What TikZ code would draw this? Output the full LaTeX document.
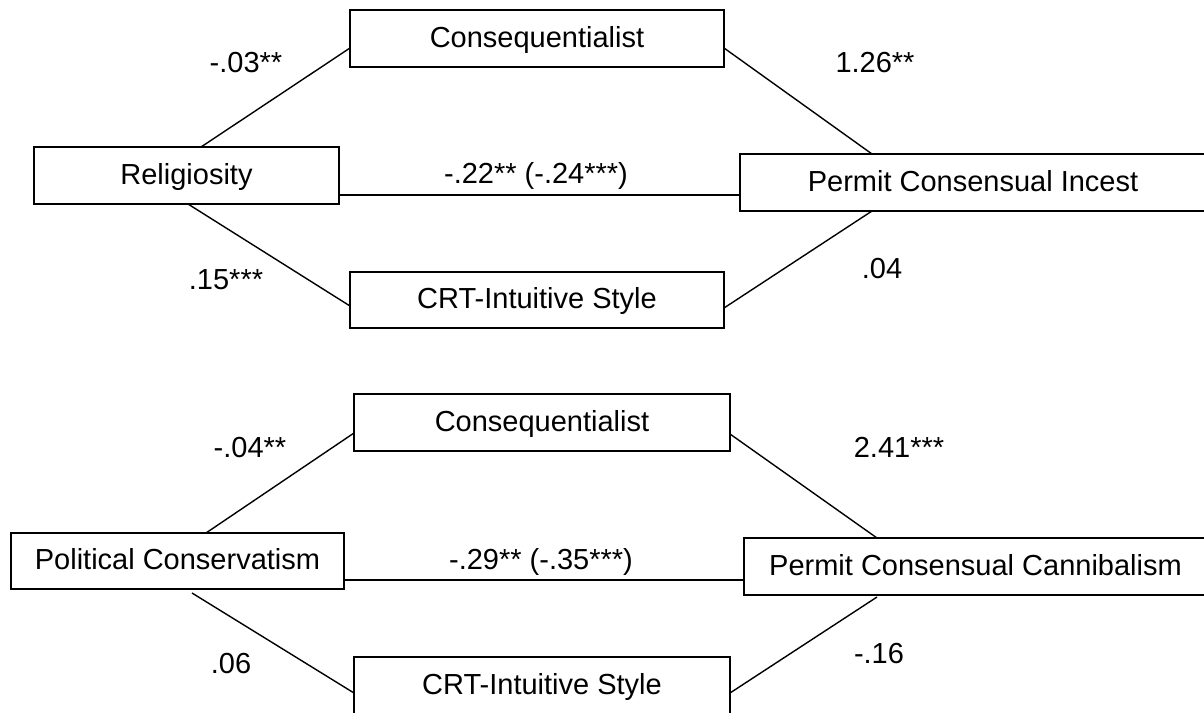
\documentclass[tikz,border=0pt]{standalone}
\usepackage{fontspec}
\setmainfont{Liberation Sans}
\begin{document}
\begin{tikzpicture}[x=1pt,y=-1pt,
  every node/.style={font=\fontsize{29}{34}\selectfont},
  box/.style={draw, line width=1.4pt, inner sep=0pt, outer sep=0pt, minimum height=57pt,
              text height=22pt, text depth=5pt, fill=white},
  lab/.style={inner sep=0pt, anchor=base},
  conn/.style={line width=1.4pt}]
\useasboundingbox (0,0) rectangle (1204,712);
\fill[white] (0,0) rectangle (1204,712);
\clip (0,0) rectangle (1204,712);
% ---------- top model ----------
\node[box, minimum width=305pt] (rel) at (186.5,175.5) {Religiosity};
\node[box, minimum width=374pt] (cons1) at (537,38.5) {Consequentialist};
\node[box, minimum width=374pt, minimum height=56pt] (crt1) at (537,300) {CRT-Intuitive Style};
\node[box, minimum width=466pt] (perm1) at (973,182.5) {Permit Consensual Incest};
\draw[conn] ([xshift=14.5pt]rel.north) -- ([yshift=-9.5pt]cons1.west);
\draw[conn] ([xshift=1.5pt]rel.south) -- ([yshift=-6pt]crt1.west);
\draw[conn] ([yshift=-19.5pt]rel.east) -- ([yshift=-12.5pt]perm1.west);
\draw[conn] ([yshift=-9.5pt]cons1.east) -- ([xshift=-101pt]perm1.north);
\draw[conn] ([yshift=-8pt]crt1.east) -- ([xshift=-101pt]perm1.south);
\node[lab] (l1) at (246,72) {-.03**};
\node[lab] (l2) at (226,289) {.15***};
\node[lab] (l3) at (536,183) {-.22** (-.24***)};
\node[lab] (l4) at (875,72) {1.26**};
\node[lab] (l5) at (882,278) {.04};
% ---------- bottom model ----------
\node[box, minimum width=333pt, minimum height=56pt] (pol) at (177.5,561) {Political Conservatism};
\node[box, minimum width=376pt] (cons2) at (542,422.5) {Consequentialist};
\node[box, minimum width=376pt] (crt2) at (542,685.5) {CRT-Intuitive Style};
\node[box, minimum width=463pt] (perm2) at (975.5,566.5) {Permit Consensual Cannibalism};
\draw[conn] ([xshift=28.5pt]pol.north) -- ([yshift=-10.5pt]cons2.west);
\draw[conn] ([xshift=14.5pt,yshift=-4pt]pol.south) -- ([yshift=-7.5pt]crt2.west);
\draw[conn] ([yshift=-19pt]pol.east) -- ([yshift=-13.5pt]perm2.west);
\draw[conn] ([yshift=-11.5pt]cons2.east) -- ([xshift=-98.5pt]perm2.north);
\draw[conn] ([yshift=-7.5pt]crt2.east) -- ([xshift=-98.5pt,yshift=-2pt]perm2.south);
\node[lab] (l6) at (250,457) {-.04**};
\node[lab] (l7) at (231,673) {.06};
\node[lab] (l8) at (541,569) {-.29** (-.35***)};
\node[lab] (l9) at (899,457) {2.41***};
\node[lab] (l10) at (879,663) {-.16};
\end{tikzpicture}
\end{document}
